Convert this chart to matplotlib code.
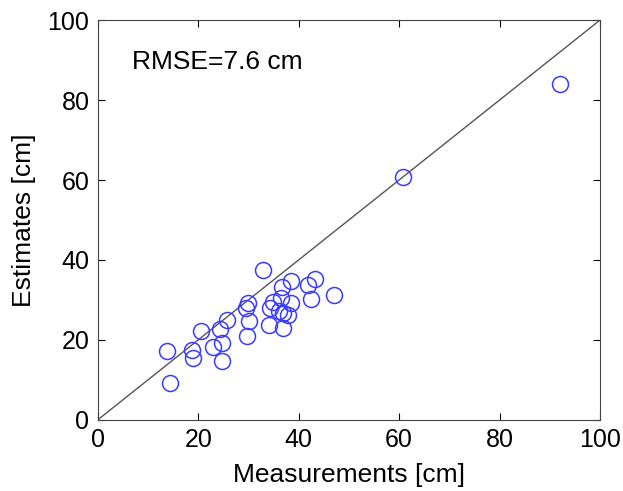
import numpy as np
import matplotlib.pyplot as plt

plt.rcParams['font.family'] = ['Liberation Sans', 'DejaVu Sans']

# measured vs estimated (cm)
measurements = [32.8, 38.5, 36.7, 43.3, 41.8, 47.1, 42.5, 30.0, 29.6, 34.8,
                34.2, 36.5, 38.5, 36.8, 37.8, 36.1, 30.2, 34.0, 36.9, 25.8,
                24.4, 20.5, 29.7, 24.7, 22.9, 18.7, 18.9, 13.8, 24.7, 14.4,
                60.8, 92.1]
estimates = [37.5, 34.8, 33.2, 35.2, 33.7, 31.2, 30.2, 29.2, 27.9, 29.6,
             27.9, 30.4, 29.3, 26.7, 26.2, 27.1, 24.7, 23.7, 22.9, 25.0,
             22.7, 22.2, 21.0, 19.3, 18.3, 17.5, 15.4, 17.1, 14.7, 9.3,
             60.8, 84.0]
rmse_text = 'RMSE=7.6 cm'

fig = plt.figure(figsize=(6.23, 4.91), dpi=100)
ax = fig.add_axes([0.157, 0.145, 0.806, 0.814])

ax.plot([0, 100], [0, 100], color='#555555', lw=1)
ax.plot(measurements, estimates, 'o', mfc='none', mec='#3b3bff', ms=11.5, mew=1.1)

ax.set_xlim(0, 100)
ax.set_ylim(0, 100)
ax.set_xticks(np.arange(0, 101, 20))
ax.set_yticks(np.arange(0, 101, 20))
ax.tick_params(direction='in', top=True, right=True, length=5, width=0.8,
               labelsize=18, pad=6)
for axis in ['top', 'bottom', 'left', 'right']:
    ax.spines[axis].set_linewidth(0.8)
    ax.spines[axis].set_color('#444444')

ax.set_xlabel('Measurements [cm]', fontsize=19, labelpad=8)
ax.set_ylabel('Estimates [cm]', fontsize=19, labelpad=8)
ax.text(6.8, 89.5, rmse_text, fontsize=19, va='center', ha='left')

fig.savefig('out.png', dpi=100)
